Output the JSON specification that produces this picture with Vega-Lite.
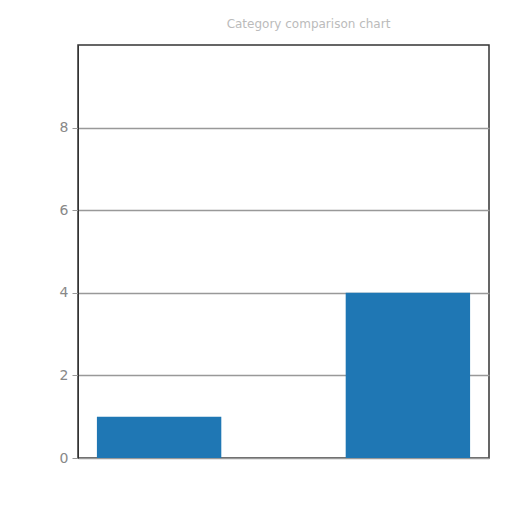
{
  "$schema": "https://vega.github.io/schema/vega-lite/v6.json",
  "autosize": {"type": "none"},
  "padding": {"left": 78, "top": 45, "right": 23, "bottom": 54},
  "width": 411,
  "height": 413,
  "background": "white",
  "title": {
    "text": "Category comparison chart",
    "color": "#bbbbbb",
    "fontSize": 12,
    "fontWeight": "normal",
    "font": "DejaVu Sans",
    "offset": 14,
    "dx": 25
  },
  "data": {
    "values": [
      {"category": "A", "value": 1},
      {"category": "B", "value": 4}
    ]
  },
  "mark": {"type": "bar", "color": "#1f77b4"},
  "encoding": {
    "x": {
      "field": "category",
      "type": "nominal",
      "axis": null,
      "scale": {"paddingInner": 0.5, "paddingOuter": 0.076}
    },
    "y": {
      "field": "value",
      "type": "quantitative",
      "scale": {"domain": [0, 10], "nice": false},
      "axis": {
        "values": [0, 2, 4, 6, 8],
        "title": null,
        "grid": true,
        "gridColor": "#999999",
        "gridWidth": 1.5,
        "domainColor": "#333333",
        "tickColor": "#999999",
        "tickSize": 6,
        "labelColor": "#888888",
        "labelFontSize": 14,
        "labelFont": "DejaVu Sans",
        "labelPadding": 4
      }
    }
  },
  "config": {
    "view": {"stroke": "#333333", "strokeWidth": 1.5}
  }
}
